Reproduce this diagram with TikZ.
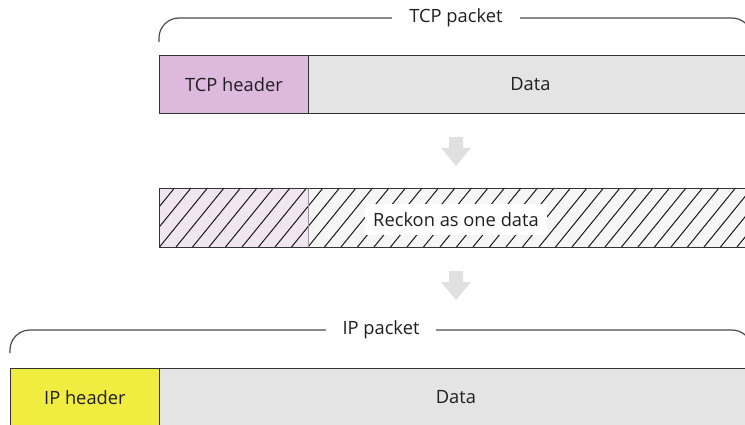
\documentclass[tikz,border=0pt]{standalone}
\usepackage{fontspec}
\setmainfont{Open Sans}
\usepackage{tikz}

\definecolor{tcphead}{HTML}{DDB9DD}
\definecolor{iphead}{HTML}{F0EC40}
\definecolor{datagray}{HTML}{E4E4E4}
\definecolor{hatchpink}{HTML}{F1E5F1}
\definecolor{hatchwhite}{HTML}{F6F6F6}

\tikzset{
  pktbox/.style={draw=black!80,line width=0.8pt,minimum height=58pt,inner sep=0pt,anchor=north west,text=black!88},
  brace/.style={draw=black!70,line width=1.2pt,rounded corners=20pt},
  bracelabel/.style={fill=white,inner xsep=17pt,inner ysep=2pt,text=black!88},
  blockarrow/.style={fill=black!12,draw=none},
}

\begin{document}
\begin{tikzpicture}[x=1pt,y=-1pt,font=\fontsize{18.3}{21}\selectfont]
  \useasboundingbox (0,0) rectangle (745,425);

  % TCP packet
  \draw[brace] (159,42) -- (159,18) -- (752,18) -- (752,42);
  \node[bracelabel] (tcplab) at (456,18) {TCP packet};
  \node[pktbox,fill=tcphead,minimum width=149pt] (tcph) at (159,55) {TCP header};
  \node[pktbox,fill=datagray,minimum width=444pt] (tcpd) at (308,55) {Data};

  % down arrows
  \foreach \y in {137,271}{
     \fill[blockarrow] (449,\y) -- (463,\y) -- (463,\y+11) -- (471,\y+11)
        -- (456,\y+29) -- (441,\y+11) -- (449,\y+11) -- cycle;
  }

  % hatched: reckon as one data
  \fill[hatchpink] (159,188) rectangle (308,247);
  \fill[hatchwhite] (308,188) rectangle (752,247);
  \begin{scope}
    \clip (159,188) rectangle (752,247);
    \foreach \i in {0,...,40}
       \draw[line width=1pt,black!90] ({110+\i*16.5},247) -- ++(48,-59);
  \end{scope}
  \draw[black!40] (308,188) -- (308,247);
  \draw[black!80,line width=0.8pt] (159,188) rectangle (752,247);
  \node[fill=white,inner xsep=8pt,minimum height=31pt,text=black!88] (reckon) at (456,220) {Reckon as one data};

  % IP packet
  \draw[brace] (10,353) -- (10,330) -- (752,330) -- (752,353);
  \node[bracelabel] (iplab) at (381,330) {IP packet};
  \node[pktbox,fill=iphead,minimum width=149pt] (iph) at (10,368) {IP header};
  \node[pktbox,fill=datagray,minimum width=593pt] (ipd) at (159,368) {Data};
\end{tikzpicture}
\end{document}
